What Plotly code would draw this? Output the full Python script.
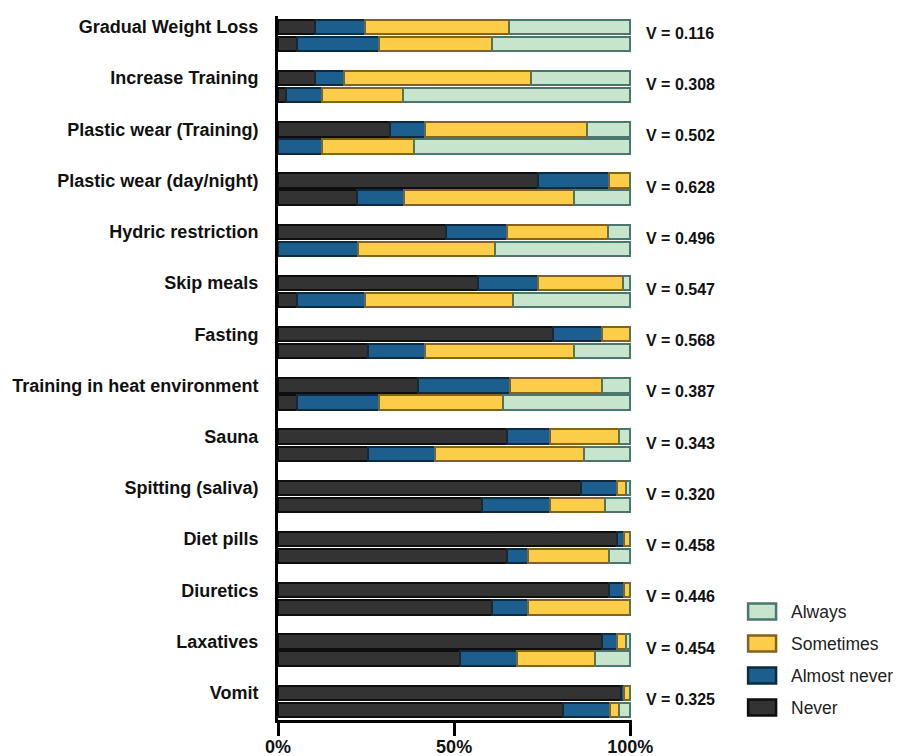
import plotly.graph_objects as go

categories = ["Gradual Weight Loss", "Increase Training", "Plastic wear (Training)",
              "Plastic wear (day/night)", "Hydric restriction", "Skip meals", "Fasting",
              "Training in heat environment", "Sauna", "Spitting (saliva)", "Diet pills",
              "Diuretics", "Laxatives", "Vomit"]
v_values = ["0.116", "0.308", "0.502", "0.628", "0.496", "0.547", "0.568",
            "0.387", "0.343", "0.320", "0.458", "0.446", "0.454", "0.325"]

# upper bar of each pair
never_top = [10.5, 10.5, 31.7, 73.9, 47.8, 56.8, 78.1, 39.8, 64.9, 85.9, 96.1, 94.0, 91.9, 97.3]
almost_top = [14.2, 8.2, 10.1, 20.1, 17.1, 17.1, 14.0, 26.1, 12.2, 10.2, 2.0, 4.1, 4.2, 0.8]
sometimes_top = [41.0, 53.0, 46.0, 6.0, 28.9, 24.1, 7.9, 26.2, 19.7, 2.6, 1.9, 1.9, 2.6, 1.9]
always_top = [34.3, 28.3, 12.2, 0.0, 6.2, 2.0, 0.0, 7.9, 3.2, 1.3, 0.0, 0.0, 1.3, 0.0]

# lower bar of each pair
never_bot = [5.4, 2.3, 0.0, 22.5, 0.0, 5.4, 25.6, 5.4, 25.6, 57.8, 64.9, 60.8, 51.7, 81.0]
almost_bot = [23.3, 10.2, 12.5, 13.2, 22.7, 19.3, 16.1, 23.2, 19.1, 19.3, 6.1, 10.2, 16.2, 13.2]
sometimes_bot = [32.0, 23.0, 26.1, 48.2, 38.9, 42.0, 42.3, 35.3, 42.2, 15.7, 23.0, 29.0, 22.0, 2.6]
always_bot = [39.3, 64.5, 61.4, 16.1, 38.4, 33.3, 16.0, 36.1, 13.1, 7.2, 6.0, 0.0, 10.1, 3.2]

series_names = ["Never", "Almost never", "Sometimes", "Always"]
tick_vals = [0, 50, 100]
tick_text = ["0%", "50%", "100%"]

fills = ["#333333", "#1c5e8e", "#fbcd48", "#c7e4cd"]
edges = ["#0e0e0e", "#0c2b42", "#856219", "#4a766d"]

tops = [never_top, almost_top, sometimes_top, always_top]
bots = [never_bot, almost_bot, sometimes_bot, always_bot]

n = len(categories)
y_top = [-3 * i for i in range(n)]
y_bot = [-3 * i - 1 for i in range(n)]

FONT = "Liberation Sans, Arial, Helvetica, sans-serif"
OFF = 8  # page body margin
W, H = 901 - OFF, 756 - OFF
L, T = 277.5 - OFF, 16 - OFF
R = W - (631.8 - OFF)
B = H - (720 - OFF)
PW, PH = W - L - R, H - T - B

fig = go.Figure()
for name, top, bot, fc, ec in zip(series_names, tops, bots, fills, edges):
    fig.add_trace(go.Bar(
        name=name, orientation="h",
        x=top + bot, y=y_top + y_bot,
        width=0.84,
        marker=dict(color=fc, line=dict(color=ec, width=2.5)),
        showlegend=False,
    ))

for i, v in enumerate(v_values):
    fig.add_annotation(x=100, y=y_top[i] - 0.5, xref="x", yref="y",
                       text="V = " + v, showarrow=False, xanchor="left",
                       xshift=14, yshift=2,
                       font=dict(family=FONT, size=16, color="#111", weight="bold"))

# custom legend (Always on top)
def px2paper(px, py):
    return (px - OFF - L) / PW, 1 - (py - OFF - T) / PH

for k, idx in enumerate([3, 2, 1, 0]):
    cy = 611.5 + 32 * k
    x0, y0 = px2paper(748, cy - 8)
    x1, y1 = px2paper(776, cy + 8)
    fig.add_shape(type="rect", xref="paper", yref="paper", x0=x0, x1=x1, y0=y1, y1=y0,
                  fillcolor=fills[idx], line=dict(color=edges[idx], width=2.5))
    tx, ty = px2paper(789, cy)
    fig.add_annotation(x=tx, y=ty, xref="paper", yref="paper", text=series_names[idx],
                       showarrow=False, xanchor="left", yanchor="middle",
                       font=dict(family=FONT, size=17.5, color="#222"))

fig.update_layout(
    barmode="stack",
    width=W, height=H,
    margin=dict(l=L, r=R, t=T, b=B, autoexpand=False),
    plot_bgcolor="white", paper_bgcolor="white",
    bargap=0,
)
fig.update_xaxes(range=[0, 100.5], tickvals=tick_vals, ticktext=tick_text,
                 showgrid=False, zeroline=False, showline=True, linecolor="black",
                 linewidth=3, ticks="outside", ticklen=13, tickwidth=3, tickcolor="black",
                 ticklabelstandoff=-5,
                 tickfont=dict(family=FONT, size=18, color="#111", weight="bold"))
fig.update_yaxes(range=[-40.6, 0.64], tickvals=y_top, ticktext=categories,
                 showgrid=False, zeroline=False, showline=True, linecolor="black",
                 linewidth=3, ticks="", ticklabelstandoff=13,
                 tickfont=dict(family=FONT, size=18, color="#111", weight="bold"))

fig.write_html("out.html")
